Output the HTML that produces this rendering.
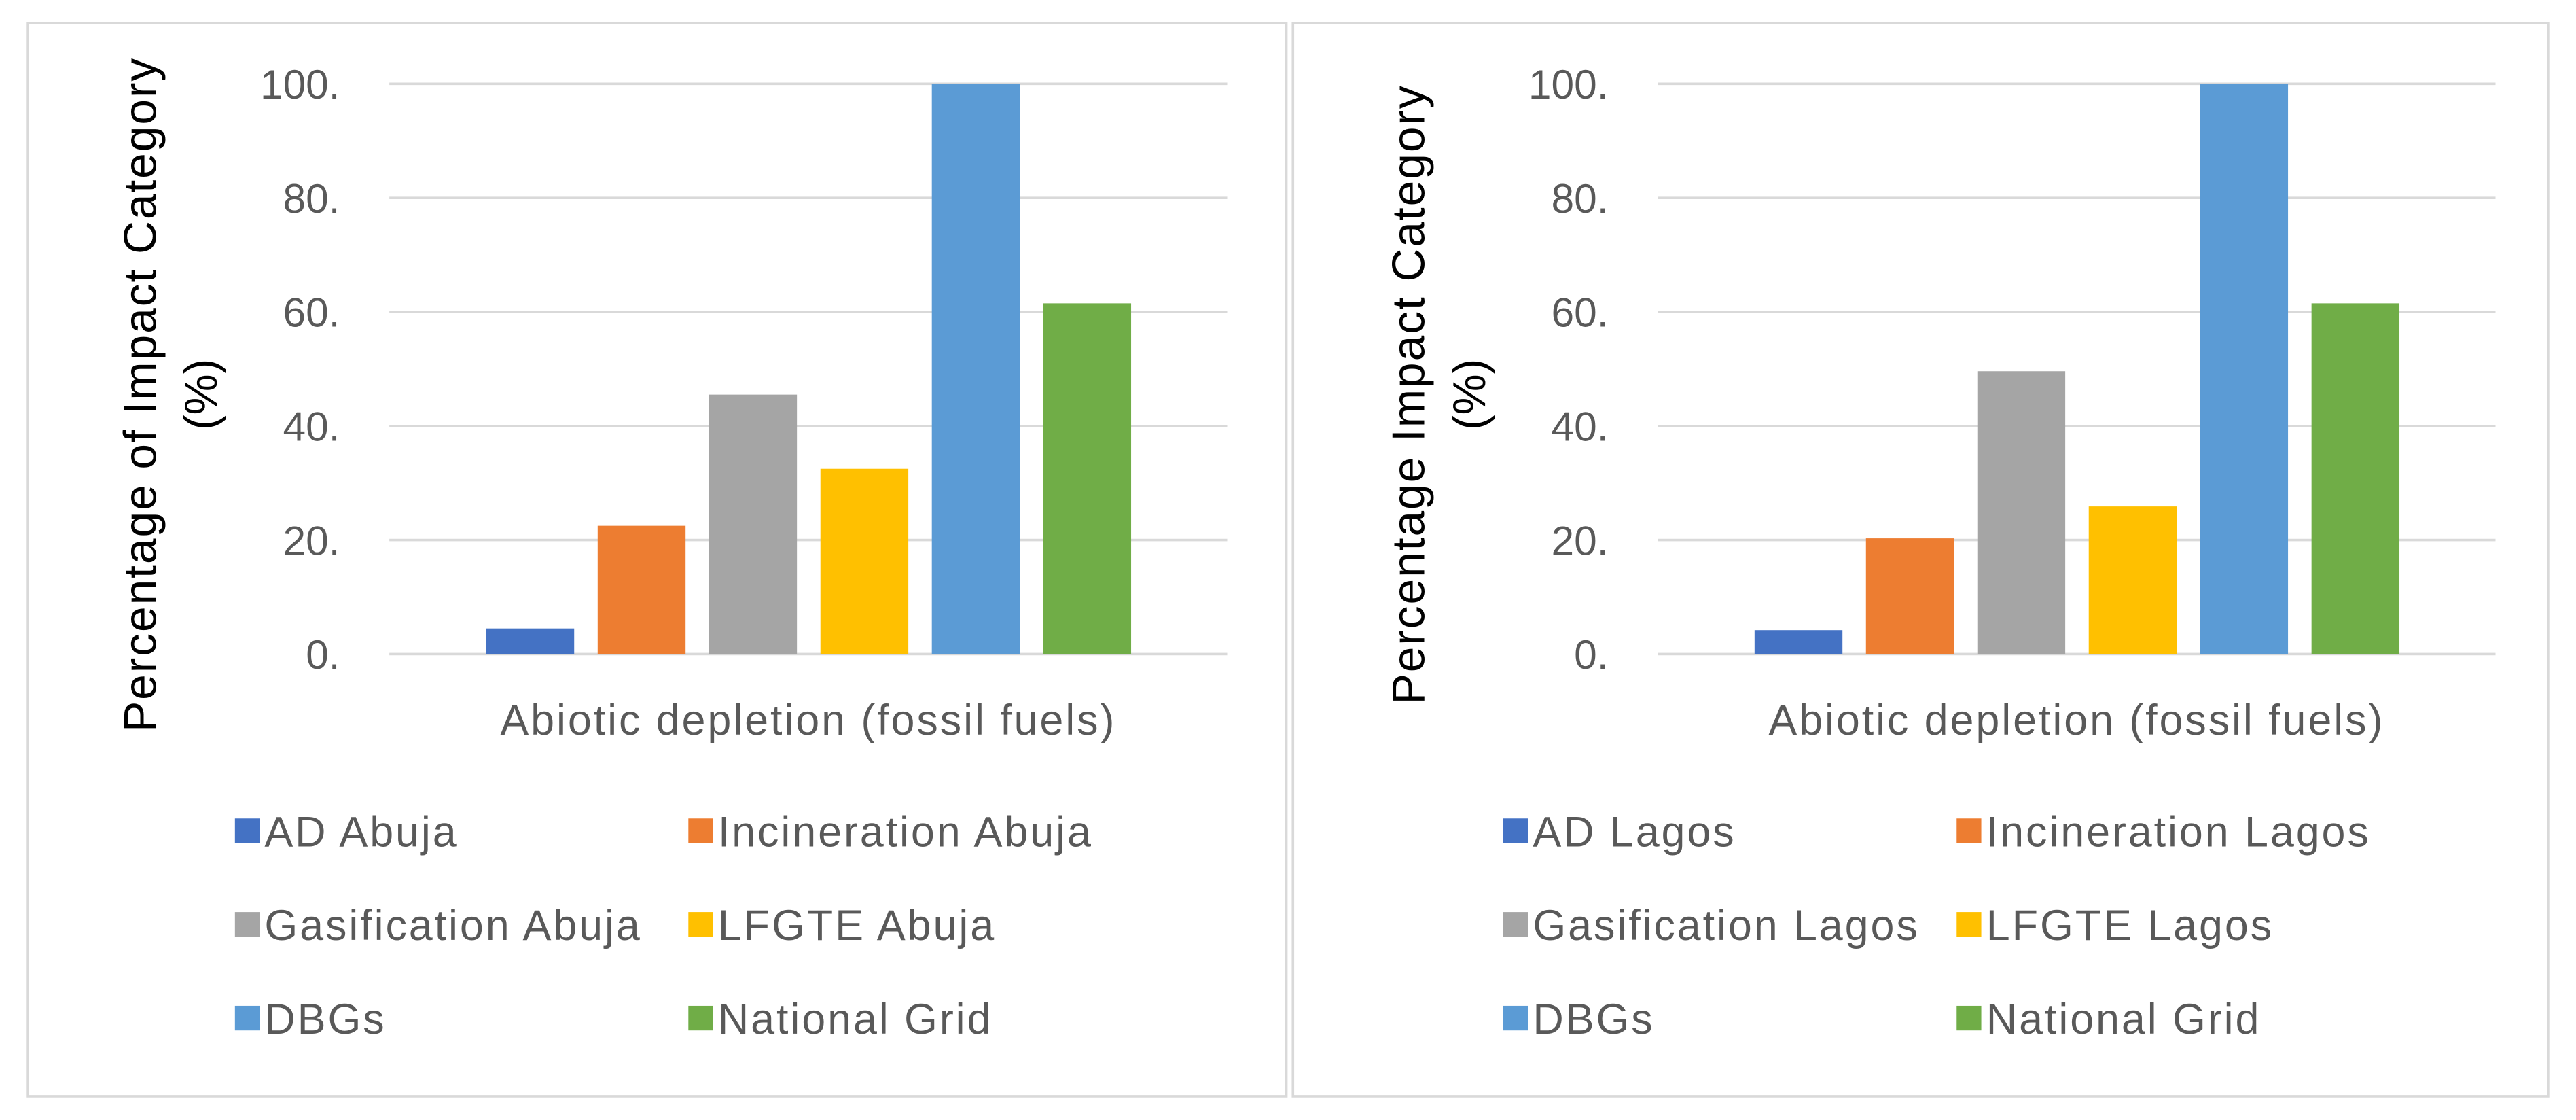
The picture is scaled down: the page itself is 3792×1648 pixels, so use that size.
<!DOCTYPE html>
<html><head><meta charset="utf-8"><style>
html,body{margin:0;padding:0;background:#fff;}
svg{display:block;font-family:"Liberation Sans",sans-serif;}
</style></head><body>
<svg id="chart" width="3792" height="1648" viewBox="0 0 1568 681.5" preserveAspectRatio="none" xmlns="http://www.w3.org/2000/svg">
<rect x="17" y="14" width="766" height="653" fill="#fff" stroke="#d9d9d9" stroke-width="1.5"/>
<rect x="787" y="14" width="764" height="653" fill="#fff" stroke="#d9d9d9" stroke-width="1.5"/>
<g id="left"></g><g id="right"></g>
</svg>
<script>
const categories = ["Abiotic depletion (fossil fuels)"];
const ticks = [0, 20, 40, 60, 80, 100];
const tickLabels = ["0.", "20.", "40.", "60.", "80.", "100."];
const seriesAbuja = ["AD Abuja", "Incineration Abuja", "Gasification Abuja", "LFGTE Abuja", "DBGs", "National Grid"];
const valuesAbuja = [4.5, 22.5, 45.5, 32.5, 100, 61.5];
const seriesLagos = ["AD Lagos", "Incineration Lagos", "Gasification Lagos", "LFGTE Lagos", "DBGs", "National Grid"];
const valuesLagos = [4.2, 20.3, 49.6, 25.9, 100, 61.5];
const colors = ["#4472c4", "#ed7d31", "#a5a5a5", "#ffc000", "#5b9bd5", "#70ad47"];
const NS = "http://www.w3.org/2000/svg";
function mk(parent, tag, attrs, text){const e=document.createElementNS(NS,tag);for(const k in attrs)e.setAttribute(k,attrs[k]);if(text!==undefined)e.textContent=text;parent.appendChild(e);return e;}
function panel(gid, ox, series, values, ylab){
  const g=document.getElementById(gid);
  const x0=ox+237, x1=ox+747, yTop=51, yBot=398;
  const y=v=>yBot-(v/100)*(yBot-yTop);
  ticks.forEach((t,i)=>{
    const l=mk(g,"line",{x1:x0,x2:x1,y1:y(t),y2:y(t),stroke:"#d9d9d9","stroke-width":1.5});
    
    
    const tx=mk(g,"text",{x:ox+207,y:y(t)+9,"text-anchor":"end","font-size":25,fill:"#595959"},tickLabels[i]);
    
    
  });
  const bw=53.5;
  values.forEach((v,i)=>{
    const r=mk(g,"rect",{x:x0+59+i*67.8,y:y(v),width:bw,height:yBot-y(v),fill:colors[i]});
    
    
  });
  const c=mk(g,"text",{x:(x0+x1)/2,y:447,"text-anchor":"middle","font-size":26,"letter-spacing":1.2,fill:"#595959"},categories[0]);
  
  
  const yl=mk(g,"text",{transform:`translate(${ox+95},240) rotate(-90)`,"text-anchor":"middle","font-size":28,"letter-spacing":0.8,fill:"#000"},ylab);
  
  
  const yl2=mk(g,"text",{transform:`translate(${ox+132},240) rotate(-90)`,"text-anchor":"middle","font-size":28,fill:"#000"},"(%)");
  
  
  series.forEach((s,i)=>{
    const col=i%2, row=Math.floor(i/2);
    const lx=ox+(col?419:143), ly=506+row*57;
    const sq=mk(g,"rect",{x:lx,y:ly-8,width:15,height:15,fill:colors[i]});
    
    
    const t=mk(g,"text",{x:lx+18,y:ly+9,"font-size":26,"letter-spacing":1.2,fill:"#595959"},s);
    
    
  });
}
panel("left",0,seriesAbuja,valuesAbuja,"Percentage of Impact Category");
panel("right",772,seriesLagos,valuesLagos,"Percentage Impact Category");
</script>
</body></html>
